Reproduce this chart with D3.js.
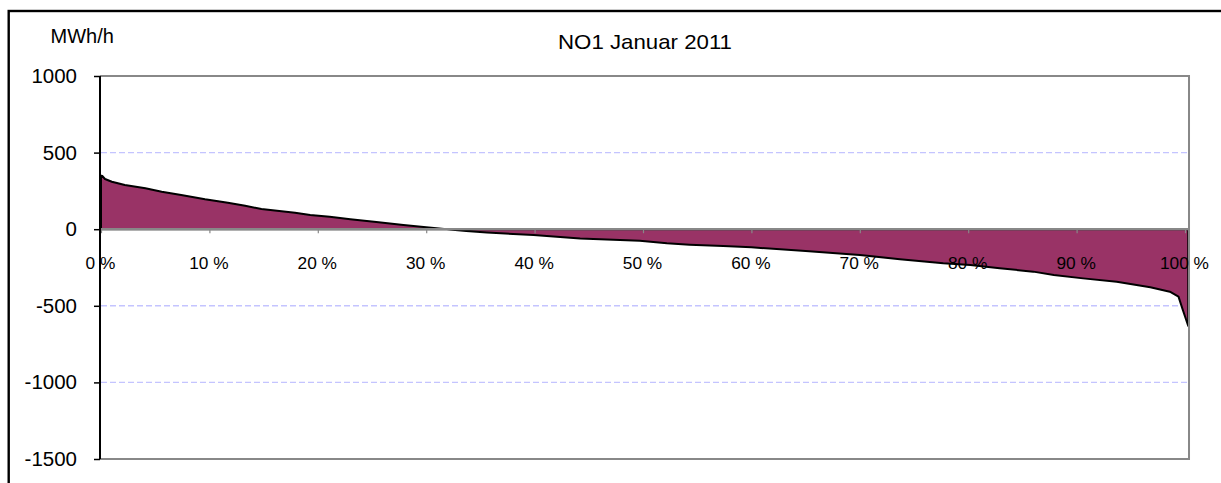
<!DOCTYPE html>
<html>
<head>
<meta charset="utf-8">
<script src="https://cdn.jsdelivr.net/npm/d3@7"></script>
<style>
  html, body { margin: 0; padding: 0; background: #fff; }
  svg { display: block; }
  text { font-family: "Liberation Sans", Arial, sans-serif; fill: #000; }
</style>
</head>
<body>
<svg id="chart" width="1221" height="483"></svg>
<script>
// ---- data ----
const title = "NO1 Januar 2011";
const unitLabel = "MWh/h";
const durationPct = [0, 0.12, 0.37, 1.0, 2.2, 4.1, 5.6, 7.4, 9.6, 11.7, 13.3, 14.8, 17.9, 19.3, 21.1, 23.0, 25.4, 27.9, 30.0, 31.9, 33.7, 35.6, 39.9, 44.2, 49.7, 52.2, 54.3, 57.4, 60.0, 65.0, 70.0, 73.7, 77.7, 80.2, 82.9, 86.0, 87.9, 90.6, 93.7, 96.8, 98.6, 99.4, 99.8, 100.3];
const flowValues = [350, 347, 328, 310, 288, 267, 245, 223, 195, 173, 153, 132, 108, 93, 82, 65, 47, 27, 12, 0, -12, -22, -38, -60, -76, -92, -101, -110, -118, -143, -168, -196, -223, -234, -255, -277, -299, -321, -343, -379, -408, -440, -527, -632];
const yTicks = [1000, 500, 0, -500, -1000, -1500];
const yGrid = [500, -500, -1000];
const xTicks = [0, 10, 20, 30, 40, 50, 60, 70, 80, 90, 100];
const xTickLabels = ["0 %", "10 %", "20 %", "30 %", "40 %", "50 %", "60 %", "70 %", "80 %", "90 %", "100 %"];

const data = durationPct.map((p, i) => ({ p, v: flowValues[i] }));

const svg = d3.select("#chart");

// outer frame
svg.append("rect")
  .attr("x", 8.7).attr("y", 11).attr("width", 1230).attr("height", 490)
  .attr("fill", "none").attr("stroke", "#000").attr("stroke-width", 2.4);

const x = d3.scaleLinear().domain([0, 100]).range([101, 1185]);
const y = d3.scaleLinear().domain([-1500, 1000]).range([459, 76]);
const xRight = x(100.37);

// title + unit
svg.append("text").attr("x", 645).attr("y", 49).attr("text-anchor", "middle")
  .attr("font-size", 21).attr("textLength", 174).attr("lengthAdjust", "spacingAndGlyphs")
  .text(title);
svg.append("text").attr("x", 50.5).attr("y", 43.3)
  .attr("font-size", 20).text(unitLabel);

// grid lines
svg.append("g").selectAll("line").data(yGrid).join("line")
  .attr("x1", 101).attr("x2", xRight)
  .attr("y1", d => y(d)).attr("y2", d => y(d))
  .attr("stroke", "#c4c4ff").attr("stroke-width", 1.4)
  .attr("stroke-dasharray", "6,3");

// area
const area = d3.area().x(d => x(d.p)).y0(y(0)).y1(d => y(d.v));
svg.append("path").datum(data)
  .attr("d", area(data) + "Z")
  .attr("fill", "#993366").attr("stroke", "#000").attr("stroke-width", 2)
  .attr("stroke-linejoin", "round");

// plot border (gray) top, right, bottom
svg.append("path")
  .attr("d", `M100,${y(1000)}H${xRight}V${y(-1500)}H100`)
  .attr("fill", "none").attr("stroke", "#888").attr("stroke-width", 2);

// x axis at zero
const xAxis = d3.axisBottom(x).tickValues(xTicks).tickSize(4).tickFormat("");
const gx = svg.append("g").attr("transform", `translate(0,${y(0)})`).call(xAxis);
gx.select(".domain").attr("d", `M100,0H${xRight}`).attr("stroke", "#888").attr("stroke-width", 2.2);
gx.selectAll(".tick line").attr("stroke", "#888").attr("stroke-width", 1.2);
svg.append("g").selectAll("text").data(xTicks).join("text")
  .attr("x", d => x(d) - 0.5).attr("y", y(0) + 40)
  .attr("text-anchor", "middle").attr("font-size", 17.3)
  .text((d, i) => xTickLabels[i]);

// y axis
const yAxis = d3.axisLeft(y).tickValues(yTicks).tickSize(6).tickFormat(d => d);
const gy = svg.append("g").attr("transform", "translate(100,0)").call(yAxis);
gy.select(".domain").attr("d", `M0,${y(1000)}V${y(-1500)}`).attr("stroke", "#000").attr("stroke-width", 2);
gy.selectAll(".tick line").attr("stroke", "#000").attr("stroke-width", 1.5);
gy.selectAll(".tick text").attr("x", -23).attr("font-size", 20.5)
  .attr("font-family", "Liberation Sans, Arial, sans-serif").attr("fill", "#000");
</script>
</body>
</html>
